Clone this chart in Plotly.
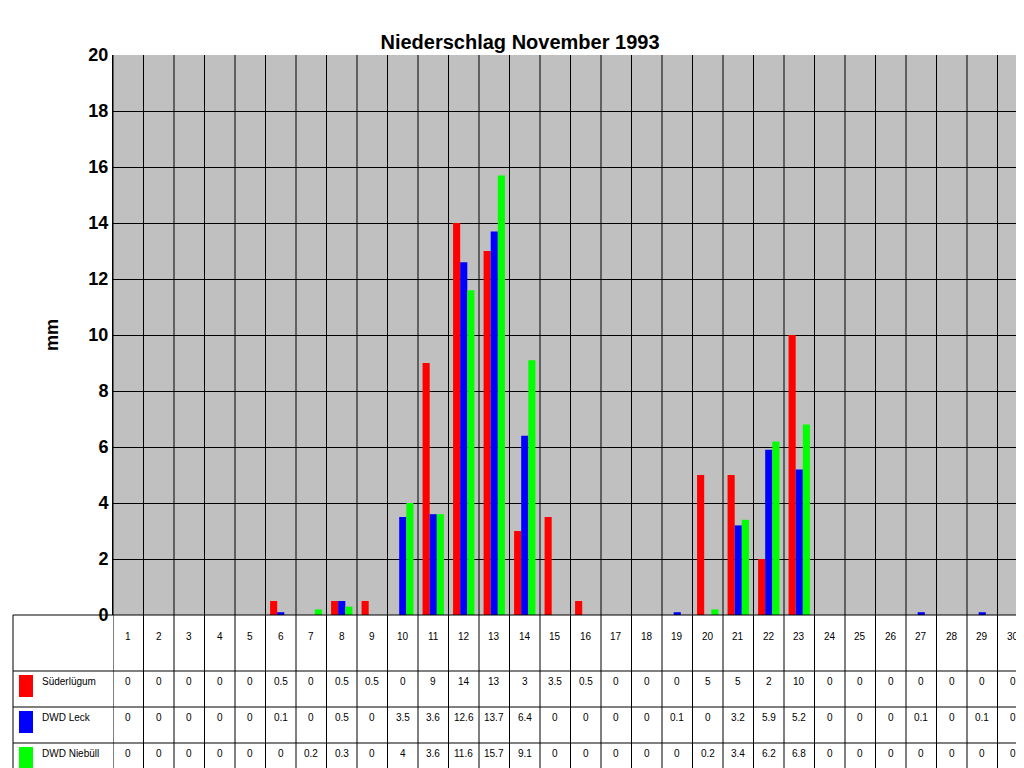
import plotly.graph_objects as go

days = list(range(1, 31))
series_names = ["Süderlügum", "DWD Leck", "DWD Niebüll"]
series_colors = ["#ff0000", "#0000ff", "#00ff00"]
suederluegum = [0, 0, 0, 0, 0, 0.5, 0, 0.5, 0.5, 0, 9, 14, 13, 3, 3.5, 0.5, 0, 0, 0, 5, 5, 2, 10, 0, 0, 0, 0, 0, 0, 0]
dwd_leck = [0, 0, 0, 0, 0, 0.1, 0, 0.5, 0, 3.5, 3.6, 12.6, 13.7, 6.4, 0, 0, 0, 0, 0.1, 0, 3.2, 5.9, 5.2, 0, 0, 0, 0.1, 0, 0.1, 0]
dwd_niebuell = [0, 0, 0, 0, 0, 0, 0.2, 0.3, 0, 4, 3.6, 11.6, 15.7, 9.1, 0, 0, 0, 0, 0, 0.2, 3.4, 6.2, 6.8, 0, 0, 0, 0, 0, 0, 0]
all_series = [suederluegum, dwd_leck, dwd_niebuell]

W, H = 1024, 768
L, R, T, B = 105, 1020, 47, 607
ph = B - T


def py(pix):
    # pixel row -> paper y
    return (B - pix) / ph


def px(pix):
    return (pix - L) / (R - L)


fig = go.Figure()
for name, color, vals in zip(series_names, series_colors, all_series):
    fig.add_trace(go.Bar(x=days, y=vals, name=name, marker=dict(color=color, line=dict(width=0))))

shapes = []
# vertical lines between days, through plot and table
for i in range(0, 31):
    shapes.append(dict(type="line", xref="x", yref="paper", x0=i + 0.5, x1=i + 0.5,
                       y0=py(765), y1=1, line=dict(color="black", width=1)))
# table horizontal lines
for row in [607, 663, 699, 735, 765]:
    shapes.append(dict(type="line", xref="paper", yref="paper", x0=px(5), x1=1,
                       y0=py(row), y1=py(row), line=dict(color="black", width=1)))
shapes.append(dict(type="line", xref="paper", yref="paper", x0=px(5), x1=px(5),
                   y0=py(765), y1=py(607), line=dict(color="black", width=1)))

annotations = []
for d in days:
    annotations.append(dict(x=d, y=py(636), xref="x", yref="paper", text=str(d), showarrow=False,
                            font=dict(size=10, family="Arial", color="black")))
row_y = [681, 717, 753]
for name, color, vals, ry in zip(series_names, series_colors, all_series, row_y):
    shapes.append(dict(type="rect", xref="paper", yref="paper", x0=px(11), x1=px(25),
                       y0=py(ry + 8), y1=py(ry - 14), fillcolor=color, line=dict(width=0)))
    annotations.append(dict(x=px(32), y=py(ry), xref="paper", yref="paper", text=name, showarrow=False,
                            xanchor="left", font=dict(size=10, family="Arial", color="black")))
    for d, v in zip(days, vals):
        annotations.append(dict(x=d, y=py(ry), xref="x", yref="paper", text=f"{v:g}", showarrow=False,
                                font=dict(size=10, family="Arial", color="black")))

fig.update_layout(
    width=W, height=H,
    margin=dict(l=L, r=W - R, t=T, b=H - B, pad=0),
    title=dict(text="<b>Niederschlag November 1993</b>", x=0.5, y=0.965, xanchor="center",
               font=dict(size=20, family="Arial", color="black")),
    paper_bgcolor="white",
    plot_bgcolor="#c0c0c0",
    barmode="group",
    bargap=0.3,
    bargroupgap=0,
    showlegend=False,
    xaxis=dict(range=[0.5, 30.5], showticklabels=False, showgrid=False, zeroline=False,
               tickmode="array", tickvals=days),
    yaxis=dict(range=[0, 20], dtick=2, showgrid=True, gridcolor="black", gridwidth=1,
               zeroline=False, showline=True, linecolor="black", ticks="",
               tickfont=dict(size=18, family="Arial", color="black"),
               title=dict(text="<b>mm</b>", font=dict(size=18, family="Arial", color="black"), standoff=25)),
    shapes=shapes,
    annotations=annotations,
)
fig.update_yaxes(tickprefix="<b>", ticksuffix="</b>")
fig.write_html("out.html")
